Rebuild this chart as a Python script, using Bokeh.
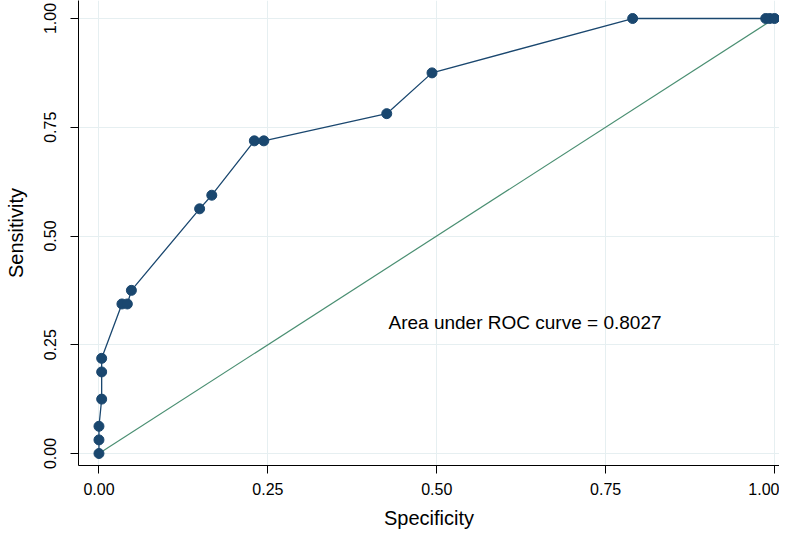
from bokeh.plotting import figure
from bokeh.models import Range1d, FixedTicker
from bokeh.core.properties import value
from bokeh.embed import file_html
from bokeh.resources import INLINE

# ROC data (x axis labelled "Specificity" as in the original)
specificity = [0.0, 0.0, 0.0, 0.004, 0.004, 0.004, 0.034, 0.042, 0.048, 0.149, 0.167,
               0.230, 0.244, 0.426, 0.493, 0.790, 0.987, 0.993, 1.0]
sensitivity = [0.0, 0.03125, 0.0625, 0.125, 0.1875, 0.21875, 0.34375, 0.34375, 0.375,
               0.5625, 0.59375, 0.71875, 0.71875, 0.78125, 0.875, 1.0, 1.0, 1.0, 1.0]
ref_x = [0.0, 1.0]
ref_y = [0.0, 1.0]
ticks = [0.0, 0.25, 0.5, 0.75, 1.0]
tick_labels = ["0.00", "0.25", "0.50", "0.75", "1.00"]
auc_text = ["Area under ROC  curve = 0.8027"]
auc_pos_x = [0.4286]
auc_pos_y = [0.301]

FONT = "Liberation Sans"
NAVY = "#1a476f"
GREEN = "#4a8f72"

p = figure(width=779, height=533, output_backend="svg", toolbar_location=None,
           x_range=Range1d(-0.0303, 1.0074), y_range=Range1d(-0.0276, 1.0414),
           min_border_left=78, min_border_right=0, min_border_top=0, min_border_bottom=68)
p.outline_line_color = None
p.background_fill_color = "white"
p.border_fill_color = "white"

for ax in (p.xaxis[0], p.yaxis[0]):
    ax.ticker = FixedTicker(ticks=ticks)
    ax.major_label_overrides = {t: l for t, l in zip(ticks, tick_labels)}
    ax.minor_tick_line_color = None
    ax.major_tick_out = 8
    ax.major_tick_in = 0
    ax.major_tick_line_color = "black"
    ax.axis_line_color = "black"
    ax.axis_line_width = 1
    ax.major_label_text_font = FONT
    ax.major_label_text_font_size = "16px"
    ax.major_label_text_color = "black"
    ax.axis_label_text_font = FONT
    ax.axis_label_text_font_size = "20px"
    ax.axis_label_text_font_style = "normal"
    ax.axis_label_text_color = "black"

p.xaxis.axis_label = "Specificity"
p.yaxis.axis_label = "Sensitivity"
p.xaxis.major_label_standoff = 9
p.xaxis.axis_label_standoff = 9
p.yaxis.major_label_orientation = "vertical"
p.yaxis.major_label_standoff = 14
p.yaxis.axis_label_standoff = 15

p.xgrid.grid_line_color = "#e6eff1"
p.ygrid.grid_line_color = "#e6eff1"
p.xgrid.grid_line_width = 1
p.ygrid.grid_line_width = 1

p.line(ref_x, ref_y, line_color=GREEN, line_width=1.2)
p.line(specificity, sensitivity, line_color=NAVY, line_width=1.3)
p.scatter(specificity, sensitivity, size=10, fill_color=NAVY, line_color=NAVY)

p.text(x=auc_pos_x, y=auc_pos_y, text=auc_text, text_font=value(FONT),
       text_font_size="19px", text_align="left", text_baseline="middle", text_color="black")

open("out.html", "w").write(file_html(p, INLINE))
